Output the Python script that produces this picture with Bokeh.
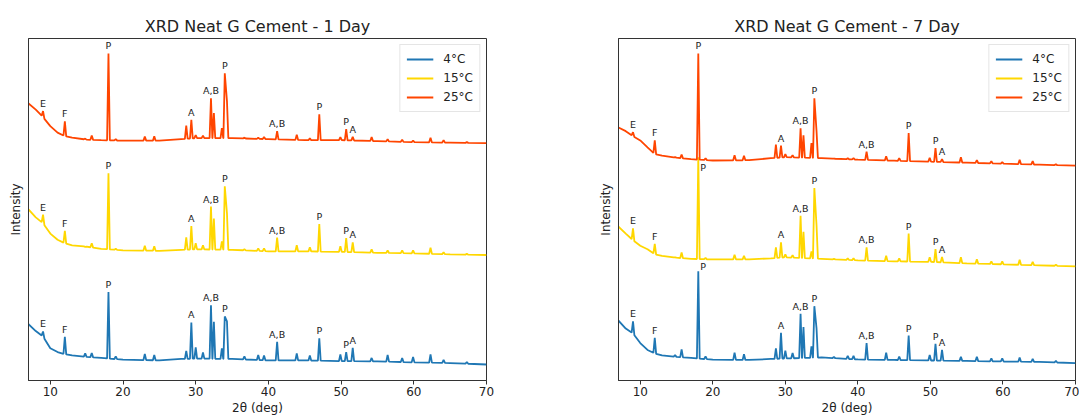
import numpy as np
from bokeh.plotting import figure
from bokeh.models import Range1d, FixedTicker, Legend, LegendItem
from bokeh.layouts import row
from bokeh.embed import file_html
from bokeh.resources import INLINE
from bokeh.core.properties import value

# ---------------- data ----------------
series_names = ["4°C", "15°C", "25°C"]
panel_titles = ["XRD Neat G Cement - 1 Day", "XRD Neat G Cement - 7 Day"]

# 2theta positions of the peaks (shared)
peak_2theta = [9.0, 12.0, 14.8, 15.7, 18.0, 19.0, 23.0, 24.3, 28.7, 29.4,
               30.0, 31.0, 32.1, 32.5, 33.6, 34.0, 34.3, 36.7, 38.6, 39.4,
               41.2, 43.9, 45.7, 47.0, 49.9, 50.7, 51.6, 54.2, 56.4, 58.4,
               59.9, 62.3, 64.1, 67.3]

# 2theta positions where the background is read
baseline_2theta = [7, 8, 9, 10, 11, 12, 13, 15, 17, 20, 25, 28, 30, 35,
                   40, 45, 50, 55, 60, 65, 70]

# ---- 1 Day (stacked intensity, arbitrary units) ----
day1_4C_base = [59.3, 52.4, 47.0, 35.2, 31.4, 29.3, 28.0, 26.6, 25.5, 23.8,
                23.1, 24.5, 24.9, 24.5, 23.1, 23.1, 22.4, 22.1, 21.1, 20.4, 19.0]
day1_4C_peaks = [52.0, 46.5, 30.0, 30.5, 91.3, 27.0, 29.5, 28.5, 32.5, 61.0,
                 36.0, 31.0, 78.2, 61.7, 35.0, 67.0, 62.0, 27.0, 28.5, 28.0,
                 41.7, 30.0, 28.0, 45.2, 29.0, 31.4, 35.5, 25.5, 28.5, 25.5,
                 26.5, 29.0, 23.5, 21.5]

day1_15C_base = [173.8, 165.9, 160.0, 149.7, 143.5, 140.0, 138.0, 136.6, 134.5, 133.0,
                 132.5, 133.5, 134.0, 133.5, 132.0, 132.0, 131.5, 130.5, 130.0, 129.0, 128.3]
day1_15C_peaks = [168.6, 152.4, 136.5, 140.0, 210.0, 134.5, 137.5, 137.0, 146.0, 157.3,
                  140.0, 138.0, 176.6, 164.8, 142.0, 196.9, 170.0, 134.0, 135.0, 135.0,
                  145.6, 138.0, 136.0, 159.3, 137.0, 145.2, 141.0, 134.0, 133.0, 133.0,
                  133.0, 135.5, 131.0, 129.5]

day1_25C_base = [279.7, 273.5, 266.0, 257.0, 250.5, 247.0, 245.5, 243.5, 243.0, 242.5,
                 242.5, 244.0, 245.0, 245.0, 244.0, 243.0, 243.0, 242.0, 241.0, 240.5, 240.0]
day1_25C_peaks = [272.0, 261.8, 244.5, 247.5, 329.6, 244.0, 246.5, 247.0, 257.5, 263.2,
                  248.0, 247.5, 284.9, 270.0, 255.0, 309.7, 282.0, 245.5, 245.5, 246.0,
                  252.0, 248.5, 245.0, 268.7, 246.0, 253.9, 246.3, 246.0, 244.0, 243.5,
                  242.5, 245.5, 243.0, 241.0]

# ---- 7 Day ----
day7_4C_base = [62.7, 54.8, 50.0, 40.4, 33.5, 30.0, 28.0, 26.6, 25.5, 23.8,
                23.5, 24.5, 25.0, 26.0, 24.0, 23.5, 23.0, 22.5, 22.0, 21.5, 20.4]
day7_4C_peaks = [62.0, 45.5, 28.5, 34.0, 112.0, 27.0, 30.7, 29.3, 35.0, 50.7,
                 32.8, 30.5, 69.6, 56.5, 37.0, 77.2, 55.0, 26.5, 27.5, 27.5,
                 40.4, 30.7, 27.0, 47.9, 28.5, 39.7, 33.5, 26.6, 26.8, 25.0,
                 25.0, 25.9, 24.5, 22.5]

day7_15C_base = [156.6, 149.7, 143.0, 137.6, 134.0, 129.0, 127.5, 125.6, 124.5, 123.9,
                 124.0, 125.0, 126.0, 124.5, 123.0, 122.0, 121.5, 120.0, 119.0, 118.0, 117.0]
day7_15C_peaks = [154.9, 139.4, 126.0, 130.8, 226.0, 125.5, 128.5, 127.5, 136.0, 141.0,
                  129.0, 128.0, 167.6, 151.4, 132.0, 195.1, 158.0, 124.5, 125.0, 125.0,
                  136.0, 127.5, 125.0, 149.7, 126.0, 134.2, 126.3, 126.0, 124.0, 122.0,
                  122.0, 123.5, 121.5, 118.5]

day7_25C_base = [255.6, 252.0, 247.0, 242.7, 235.8, 229.0, 227.5, 225.5, 224.0, 222.7,
                 223.0, 225.0, 226.0, 225.0, 223.5, 222.5, 221.5, 220.5, 219.5, 218.5, 217.5]
day7_25C_peaks = [251.0, 242.7, 226.0, 228.5, 329.6, 225.0, 228.0, 227.5, 238.5, 237.5,
                  229.0, 228.0, 254.9, 247.8, 240.0, 284.9, 252.0, 224.5, 225.0, 225.0,
                  231.6, 227.0, 225.0, 250.2, 225.5, 235.0, 224.0, 226.0, 223.0, 222.0,
                  221.0, 223.5, 222.0, 219.0]

# phase labels
label_text = ["E", "F", "P", "A", "A,B", "P", "A,B", "P", "P", "A"]
label_2theta = [9.0, 12.0, 18.0, 29.4, 32.1, 34.0, 41.2, 47.0, 50.7, 51.6]

x_ticks = [10, 20, 30, 40, 50, 60, 70]

# ---------------- styling ----------------
COLORS = ["#1f77b4", "#ffd700", "#ff4500"]
FONT = "DejaVu Sans"
HW = 0.19  # half width of a peak foot (deg)


def build_trace(base_y, peak_y):
    bx = np.array(baseline_2theta, dtype=float)
    by = np.array(base_y, dtype=float)
    px = list(peak_2theta)
    pts = [(x, y) for x, y in zip(bx, by) if not any(abs(x - p) < HW for p in px)]
    for p, h in zip(px, peak_y):
        pts.append((p, h))
        for f in (p - HW, p + HW):
            if not any(abs(f - q) < HW for q in px if q != p):
                pts.append((f, float(np.interp(f, bx, by))))
    pts.sort()
    return [a for a, _ in pts], [b for _, b in pts]


def make_panel(title, bases, peaks, side_labels, width, left, right):
    p = figure(width=width, height=417, output_backend="svg", toolbar_location=None,
               x_range=Range1d(7, 70), y_range=Range1d(3, 344.5),
               min_border_left=left, min_border_right=right,
               min_border_top=38, min_border_bottom=37)
    p.title.text = title
    p.title.align = "center"
    p.title.text_font = FONT
    p.title.text_font_size = "16px"
    p.title.text_font_style = "normal"
    p.title.text_color = "#222222"
    p.title.standoff = 6
    p.grid.visible = False
    p.outline_line_color = "#333333"
    p.outline_line_width = 1
    p.background_fill_color = "white"

    p.xaxis.ticker = FixedTicker(ticks=x_ticks)
    p.xaxis.axis_label = "2θ (deg)"
    p.xaxis.major_tick_out = 4
    p.xaxis.major_tick_in = 0
    p.xaxis.minor_tick_line_color = None
    p.xaxis.major_label_standoff = 2
    p.xaxis.axis_label_standoff = 2

    p.yaxis.ticker = FixedTicker(ticks=[])
    p.yaxis.axis_label = "Intensity"
    p.yaxis.minor_tick_line_color = None
    p.yaxis.major_tick_line_color = None
    p.yaxis.axis_label_standoff = 6

    for ax in (p.xaxis, p.yaxis):
        ax.axis_line_color = "#333333"
        ax.major_label_text_font = FONT
        ax.major_label_text_font_size = "12px"
        ax.major_label_text_color = "#222222"
        ax.axis_label_text_font = FONT
        ax.axis_label_text_font_size = "12px"
        ax.axis_label_text_font_style = "normal"
        ax.axis_label_text_color = "#222222"
    p.xaxis.major_tick_line_color = "#333333"

    renderers = []
    for i, (b, pk) in enumerate(zip(bases, peaks)):
        xs, ys = build_trace(b, pk)
        r = p.line(xs, ys, line_color=COLORS[i], line_width=1.8)
        renderers.append(r)

    # labels
    for i, pk in enumerate(peaks):
        lx, ly, lt = [], [], []
        sx, sy, st = [], [], []
        for t, x in zip(label_text, label_2theta):
            h = pk[peak_2theta.index(x)]
            if (i, x) in side_labels:
                sx.append(x)
                sy.append(h)
                st.append(t)
            else:
                lx.append(x)
                ly.append(h)
                lt.append(t)
        p.text(lx, ly, text=lt, text_font=value(FONT), text_font_size="9.5px",
               text_color="#222222", text_align="center", text_baseline="bottom",
               y_offset=-2)
        for (x, y, t) in zip(sx, sy, st):
            p.text([x], [y], text=[t], text_font=value(FONT), text_font_size="9.5px",
                   text_color="#222222", text_align="left", text_baseline="middle",
                   x_offset=2, y_offset=side_labels[(i, x)])

    legend = Legend(items=[LegendItem(label=n, renderers=[r])
                           for n, r in zip(series_names, renderers)],
                    location="top_right")
    legend.margin = 6
    legend.padding = 6
    legend.spacing = 3
    legend.glyph_width = 27
    legend.glyph_height = 16
    legend.label_height = 16
    legend.label_standoff = 10
    legend.label_text_font = FONT
    legend.label_text_font_size = "12px"
    legend.label_text_color = "#222222"
    legend.border_line_color = "#cccccc"
    legend.border_line_width = 1
    legend.background_fill_alpha = 0.85
    p.add_layout(legend)
    return p


p1 = make_panel(panel_titles[0],
                [day1_4C_base, day1_15C_base, day1_25C_base],
                [day1_4C_peaks, day1_15C_peaks, day1_25C_peaks],
                {}, 540, 28, 54)
p2 = make_panel(panel_titles[1],
                [day7_4C_base, day7_15C_base, day7_25C_base],
                [day7_4C_peaks, day7_15C_peaks, day7_25C_peaks],
                {(0, 18.0): -5, (1, 18.0): 10}, 539, 78, 4)

layout = row(p1, p2)
open("out.html", "w").write(file_html(layout, INLINE))
